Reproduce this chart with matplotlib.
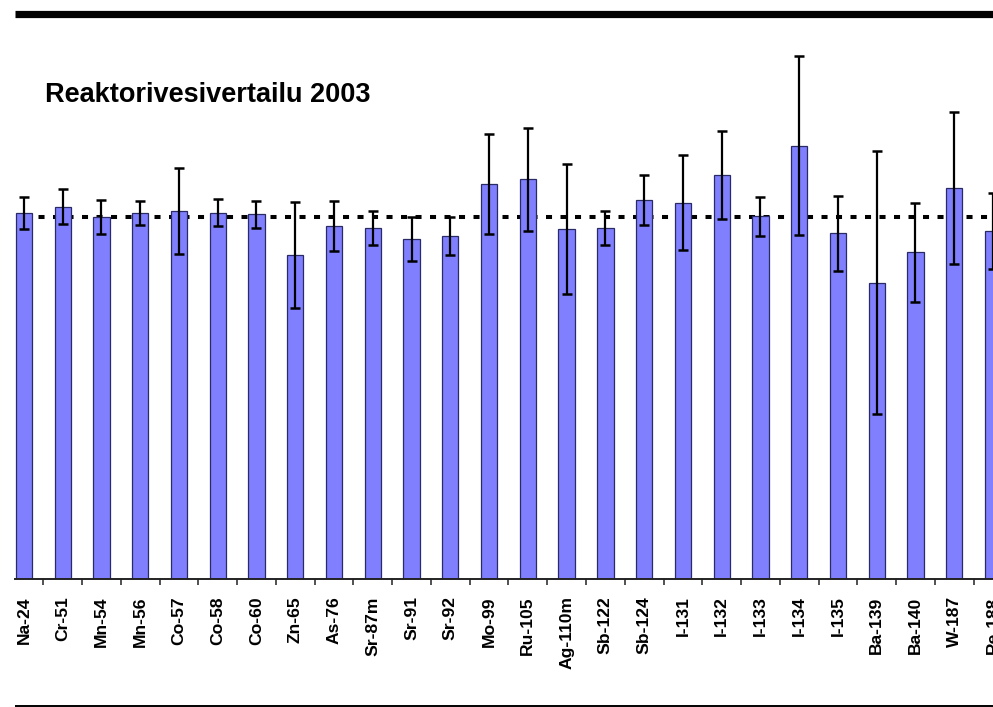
import numpy as np
import matplotlib
matplotlib.use("Agg")
import matplotlib.pyplot as plt
from matplotlib.lines import Line2D

plt.rcParams['font.family'] = ['Liberation Sans', 'DejaVu Sans']

# Reactor water intercomparison 2003: ratio to reference value, with uncertainties
nuclides = ["Na-24", "Cr-51", "Mn-54", "Mn-56", "Co-57", "Co-58", "Co-60",
            "Zn-65", "As-76", "Sr-87m", "Sr-91", "Sr-92", "Mo-99", "Ru-105",
            "Ag-110m", "Sb-122", "Sb-124", "I-131", "I-132", "I-133", "I-134",
            "I-135", "Ba-139", "Ba-140", "W-187", "Re-188"]
ratio = [1.012, 1.028, 0.999, 1.012, 1.016, 1.012, 1.007,
         0.895, 0.975, 0.970, 0.939, 0.948, 1.091, 1.104,
         0.967, 0.970, 1.047, 1.040, 1.116, 1.002, 1.197,
         0.955, 0.818, 0.903, 1.080, 0.962]
uncert = [0.044, 0.048, 0.047, 0.033, 0.118, 0.037, 0.037,
          0.147, 0.069, 0.047, 0.060, 0.053, 0.138, 0.143,
          0.179, 0.046, 0.068, 0.130, 0.121, 0.054, 0.247,
          0.103, 0.363, 0.137, 0.211, 0.105]
reference = 1.0

W, H = 993, 707
fig = plt.figure(figsize=(W / 100, H / 100), dpi=100)

# axes box in pixels: x from 15 to right edge, baseline at y=579, top at y=30
ax_left, ax_base, ax_top = 15, 579, 30
px_per_unit = 362.0
ax = fig.add_axes([ax_left / W, 1 - ax_base / H, 1 - ax_left / W, (ax_base - ax_top) / H])

x = np.arange(len(nuclides))
ax.set_xlim(-0.23, 24.97)
ax.set_ylim(0, (ax_base - ax_top) / px_per_unit)

# reference level sits behind the bars
ax.plot([0, len(nuclides)], [reference, reference], color='black', lw=2.9,
        ls=(0, (1.5, 2.1)), zorder=1, solid_capstyle='butt', dash_capstyle='butt')

ax.bar(x, ratio, width=0.42, color='#8080FF', edgecolor='#2A2A66', linewidth=0.9, zorder=2)
ax.errorbar(x, ratio, yerr=uncert, fmt='none', ecolor='black', elinewidth=1.6,
            capsize=3.8, capthick=1.8, zorder=3, clip_on=False)

for side in ['left', 'right', 'top']:
    ax.spines[side].set_visible(False)
ax.spines['bottom'].set_linewidth(1.4)
ax.spines['bottom'].set_color('#222222')
ax.set_yticks([])

# category boundaries as major ticks, names on minor ticks
ax.set_xticks(x[:-1] + 0.5)
ax.set_xticklabels([])
ax.tick_params(axis='x', which='major', direction='out', length=4.3, width=1.1, color='#222222')
ax.set_xticks(x, minor=True)
ax.set_xticklabels(nuclides, minor=True, rotation=90, fontsize=12.6, fontweight='bold')
ax.tick_params(axis='x', which='minor', length=0, pad=12.5)

fig.text(45 / W, 1 - 102 / H, "Reaktorivesivertailu 2003", fontsize=19.5,
         fontweight='bold', va='baseline', ha='left')

# heavy rule on top, thin rule at the bottom
fig.add_artist(Line2D([15 / W, 1], [1 - 13.5 / H, 1 - 13.5 / H], color='black', lw=5.2,
                      transform=fig.transFigure, solid_capstyle='butt'))
fig.add_artist(Line2D([15 / W, 1], [1 - 705.5 / H, 1 - 705.5 / H], color='black', lw=1.4,
                      transform=fig.transFigure, solid_capstyle='butt'))

fig.savefig("out.png", dpi=100)
